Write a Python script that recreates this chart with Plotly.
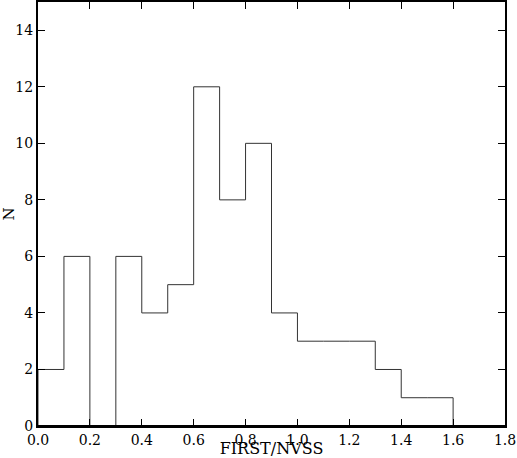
import plotly.graph_objects as go

# histogram of FIRST/NVSS flux ratio, bin width 0.1
bin_edges = [0.0, 0.1, 0.2, 0.3, 0.4, 0.5, 0.6, 0.7, 0.8, 0.9, 1.0,
             1.1, 1.2, 1.3, 1.4, 1.5, 1.6]
counts = [2, 6, 0, 6, 4, 5, 12, 8, 10, 4, 3, 3, 3, 2, 1, 1]

# step outline: start at zero, hold each count over its bin, drop back to zero
xs = [bin_edges[0]] + bin_edges
ys = [0] + counts + [0]

fig = go.Figure()
fig.add_trace(go.Scatter(x=xs, y=ys, mode="lines", line_shape="hv",
                         line=dict(color="#333333", width=1),
                         showlegend=False, hoverinfo="skip"))

axis_common = dict(showgrid=False, zeroline=False, showline=True,
                   linecolor="black", linewidth=2, mirror="ticks",
                   ticks="inside", ticklen=7, tickwidth=1, tickcolor="black",
                   layer="above traces", automargin=False,
                   tickfont=dict(family="DejaVu Serif", size=14, color="black"))

fig.update_xaxes(range=[0, 1.8], tickvals=[0, 0.2, 0.4, 0.6, 0.8, 1.0, 1.2, 1.4, 1.6, 1.8],
                 tickformat=".1f",
                 title=dict(text="FIRST/NVSS", standoff=0,
                            font=dict(family="DejaVu Serif", size=16, color="black")),
                 **axis_common)
fig.update_yaxes(range=[0, 15], tickvals=[0, 2, 4, 6, 8, 10, 12, 14],
                 title=dict(text="N", standoff=4,
                            font=dict(family="DejaVu Serif", size=15, color="black")),
                 **axis_common)

# thicken the bottom spine over the plot edge so the empty-bin floor merges into it
fig.add_shape(type="line", xref="paper", yref="paper", x0=0, x1=1, y0=0, y1=0,
              line=dict(color="black", width=2), layer="above")

fig.update_layout(width=517, height=458, plot_bgcolor="white", paper_bgcolor="white",
                  margin=dict(l=38, r=12, t=2, b=32))
# drop the default page margin so the figure sits at the window's corner
fig.write_html("out.html", config={"displayModeBar": False},
               post_script="document.body.style.margin='0';")
